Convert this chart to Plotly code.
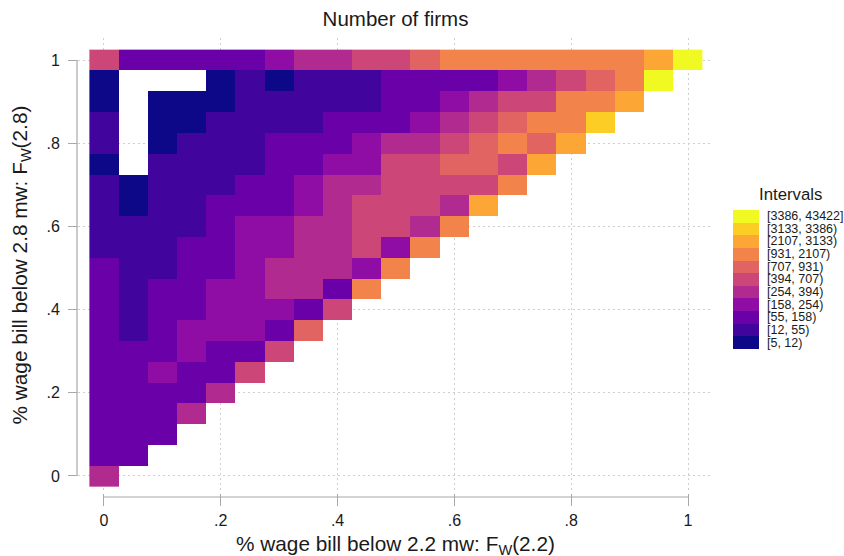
import plotly.graph_objects as go

# ---- data: bin index (0..10) per cell, rows from y=0 (bottom) to y=1 (top)
grid_step = 0.05
n_cells = 21
interval_labels = ["[5, 12)", "[12, 55)", "[55, 158)", "[158, 254)", "[254, 394)",
                   "[394, 707)", "[707, 931)", "[931, 2107)", "[2107, 3133)",
                   "[3133, 3386)", "[3386, 43422]"]
interval_colors = ["#0d0887", "#41049d", "#6a00a8", "#8f0da4", "#b12a90", "#cc4778",
                   "#e16462", "#f2844b", "#fca636", "#fcce25", "#f0f921"]
N = None
bin_rows = [
    [4],
    [2, 2],
    [2, 2, 2],
    [2, 2, 2, 4],
    [2, 2, 2, 2, 4],
    [2, 2, 3, 2, 2, 5],
    [2, 2, 2, 3, 2, 2, 5],
    [2, 1, 2, 3, 3, 3, 2, 6],
    [2, 1, 2, 2, 3, 3, 3, 2, 5],
    [2, 1, 2, 2, 3, 3, 4, 4, 2, 7],
    [2, 1, 1, 2, 2, 3, 4, 4, 4, 3, 7],
    [1, 1, 1, 2, 2, 3, 3, 4, 4, 5, 3, 7],
    [1, 1, 1, 1, 2, 3, 3, 4, 4, 5, 5, 4, 7],
    [1, 0, 1, 1, 2, 2, 2, 3, 4, 5, 5, 5, 4, 8],
    [1, 0, 1, 1, 1, 2, 2, 3, 4, 4, 5, 5, 5, 5, 7],
    [0, N, 1, 1, 1, 1, 2, 2, 3, 3, 5, 5, 6, 6, 5, 8],
    [1, N, 0, 1, 1, 1, 2, 2, 2, 3, 4, 4, 5, 6, 7, 6, 8],
    [1, N, 0, 0, 1, 1, 1, 1, 2, 2, 2, 3, 4, 5, 6, 7, 7, 9],
    [0, N, 0, 0, 0, 1, 1, 1, 1, 1, 2, 2, 3, 4, 5, 5, 7, 7, 8],
    [0, N, N, N, 0, 1, 0, 1, 1, 1, 2, 2, 2, 2, 3, 4, 5, 6, 7, 10],
    [5, 2, 2, 2, 2, 2, 3, 4, 4, 5, 5, 6, 7, 7, 7, 7, 7, 7, 7, 8, 10],
]
tick_vals = [0, 0.2, 0.4, 0.6, 0.8, 1]
tick_text = ["0", ".2", ".4", ".6", ".8", "1"]

centers = [round(i * grid_step, 2) for i in range(n_cells)]
z = [row + [None] * (n_cells - len(row)) for row in bin_rows]
text = [[interval_labels[v] if v is not None else "" for v in row] for row in z]

k = len(interval_colors)
colorscale = []
for i, c in enumerate(interval_colors):
    colorscale.append([i / k, c])
    colorscale.append([(i + 1) / k, c])

W, H = 844, 556
L, R, T, B = 78, 131, 38, 63
XR = [-0.0445, 1.0428]
YR = [-0.041, 1.053]
pw, ph = W - L - R, H - T - B

def px_x(v):
    return (v - XR[0]) / (XR[1] - XR[0])

def px_y(v):
    return (v - YR[0]) / (YR[1] - YR[0])

font_family = "Liberation Sans, Arial, sans-serif"
axis_gray = "#a8a8a8"
grid_gray = "#cfcfcf"

fig = go.Figure(go.Heatmap(
    x=centers, y=centers, z=z, text=text,
    hovertemplate="x=%{x}<br>y=%{y}<br>%{text}<extra></extra>",
    colorscale=colorscale, zmin=-0.5, zmax=k - 0.5,
    colorbar=dict(
        tickvals=list(range(k)), ticktext=interval_labels,
        ticks="outside", ticklen=6, tickcolor="rgba(0,0,0,0)",
        outlinewidth=0, thickness=26,
        lenmode="pixels", len=139,
        x=(733 - L) / pw, xanchor="left", xpad=0,
        y=(H - B - 279) / ph, yanchor="middle", ypad=0,
        tickfont=dict(size=12.5, color="#1a1a1a", family=font_family),
    ),
))

fig.update_layout(
    width=W, height=H,
    margin=dict(l=L, r=R, t=T, b=B, autoexpand=False),
    paper_bgcolor="white", plot_bgcolor="white",
    font=dict(family=font_family, color="#1a1a1a"),
    title=dict(text="Number of firms", x=(L + pw / 2) / W, xanchor="center",
               y=1 - 19 / H, yanchor="middle", font=dict(size=20.5)),
    showlegend=False,
)
fig.update_xaxes(range=XR, tickvals=tick_vals, ticktext=tick_text,
                 showgrid=True, gridcolor=grid_gray, griddash="2px,3px", gridwidth=1,
                 zeroline=False, showline=False, ticks="outside", ticklen=12,
                 tickcolor=axis_gray, tickwidth=1.2, tickfont=dict(size=16),
                 ticklabelstandoff=1)
fig.update_yaxes(range=YR, tickvals=tick_vals, ticktext=tick_text,
                 showgrid=True, gridcolor=grid_gray, griddash="2px,3px", gridwidth=1,
                 zeroline=False, showline=False, ticks="outside", ticklen=9,
                 tickcolor=axis_gray, tickwidth=1.2, tickfont=dict(size=16),
                 ticklabelstandoff=5)

# offset axis lines spanning 0..1 (Stata style)
fig.add_shape(type="line", xref="paper", yref="paper",
              x0=-1 / pw, x1=-1 / pw, y0=px_y(0), y1=px_y(1),
              line=dict(color=axis_gray, width=1.2))
fig.add_shape(type="line", xref="paper", yref="paper",
              x0=px_x(0), x1=px_x(1), y0=-4 / ph, y1=-4 / ph,
              line=dict(color=axis_gray, width=1.2))

fig.add_annotation(text="% wage bill below 2.2 mw: F<sub>W</sub>(2.2)",
                   xref="paper", yref="paper", x=0.5, y=0, yanchor="middle",
                   yshift=-(545 - (H - B)), showarrow=False, font=dict(size=20.8))
fig.add_annotation(text="% wage bill below 2.8 mw: F<sub>W</sub>(2.8)",
                   xref="paper", yref="paper", x=0, y=0.5, xanchor="center",
                   xshift=-(L - 20), textangle=-90, showarrow=False,
                   font=dict(size=20.8))
fig.add_annotation(text="Intervals", xref="paper", yref="paper",
                   x=(790 - L) / pw, y=(H - B - 194) / ph, xanchor="center",
                   yanchor="middle", showarrow=False, font=dict(size=16.8))

fig.write_html("out.html", config={"displayModeBar": False},
               post_script="document.body.style.margin='0';"
                           "document.body.style.overflow='hidden';")
